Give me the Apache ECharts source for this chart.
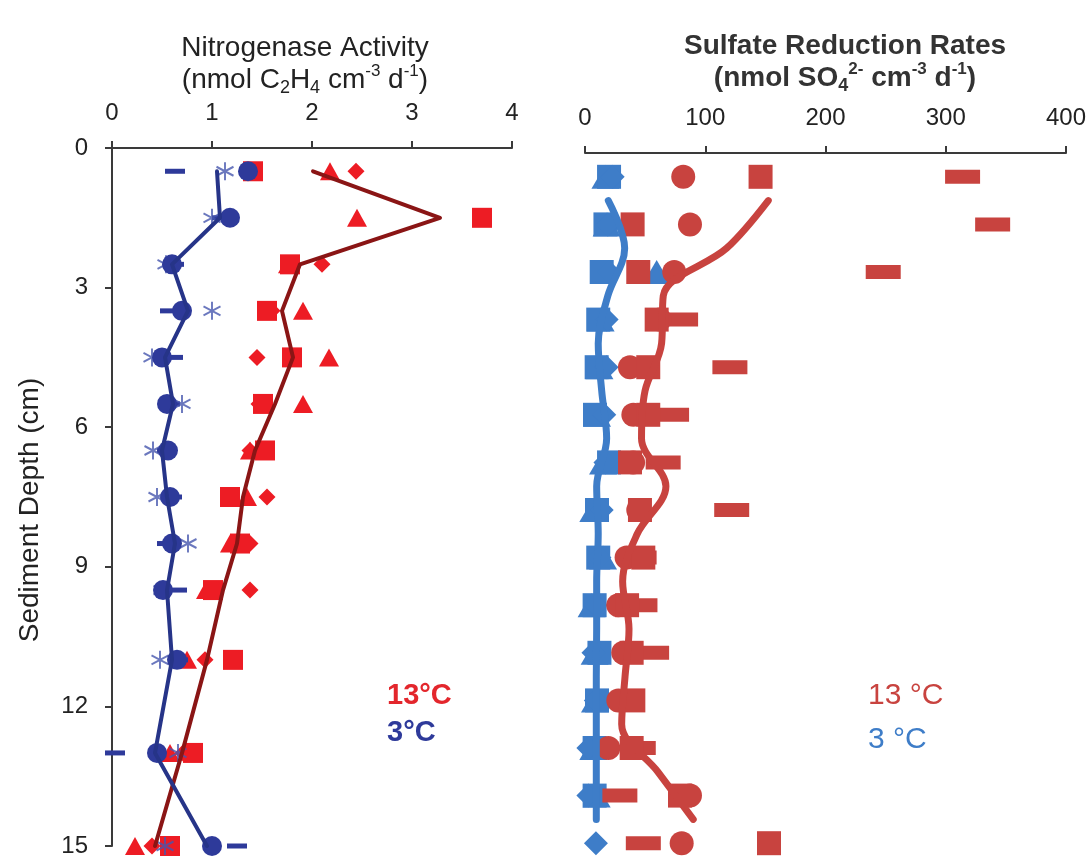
<!DOCTYPE html>
<html>
<head>
<meta charset="utf-8">
<script src="https://cdn.jsdelivr.net/npm/echarts@6/dist/echarts.min.js"></script>
<style>
html,body{margin:0;padding:0;background:#fff;}
#chart{width:1091px;height:857px;}
</style>
</head>
<body>
<div id="chart"></div>
<script>
// ---------- Left panel: Nitrogenase activity ----------
const depthsN = [0.5, 1.5, 2.5, 3.5, 4.5, 5.5, 6.5, 7.5, 8.5, 9.5, 11, 13, 15];
// 13 °C replicates (red)
const n13Square   = [1.41, 3.70, 1.78, 1.55, 1.80, 1.51, 1.53, 1.18, 1.28, 1.01, 1.21, 0.81, 0.58];
const n13Triangle = [2.18, 2.45, 1.76, 1.91, 2.17, 1.91, 1.38, 1.35, 1.18, 0.94, 0.75, 0.58, 0.23];
const n13Diamond  = [2.44, 3.69, 2.10, 1.60, 1.45, 1.47, 1.38, 1.55, 1.38, 1.38, 0.93, 0.71, 0.40];
const n13Mean     = [2.01, 3.28, 1.88, 1.70, 1.81, 1.63, 1.43, 1.31, 1.25, 1.11, 0.95, 0.70, 0.43];
// 3 °C replicates (blue)
const n3Circle    = [1.36, 1.18, 0.60, 0.70, 0.50, 0.55, 0.56, 0.58, 0.60, 0.51, 0.65, 0.45, 1.00];
const n3Star      = [1.13, 1.00, 0.54, 1.00, 0.40, 0.70, 0.41, 0.45, 0.76, 0.50, 0.48, 0.66, 0.53];
const n3Dash      = [0.63, 1.10, 0.62, 0.58, 0.61, 0.58, 0.55, 0.60, 0.55, 0.65, 0.66, 0.03, 1.25];
const n3Mean      = [1.05, 1.08, 0.60, 0.76, 0.53, 0.61, 0.50, 0.55, 0.63, 0.55, 0.60, 0.43, 0.95];

// ---------- Right panel: Sulfate reduction rates ----------
const depthsS = [0.5, 1.5, 2.5, 3.5, 4.5, 5.5, 6.5, 7.5, 8.5, 9.5, 10.5, 11.5, 12.5, 13.5, 14.5];
const s13Square = [146, 39.6, 44.3, 59.6, 52.6, 52.6, 37.4, 45.7, 48.5, 35, 38.8, 40.2, 38.8, 79, 153];
const s13Circle = [81.7, 87.3, 74.2, 62, 37.4, 40.2, 40, 44.3, 34.6, 27.7, 31.8, 27.7, 19.4, 87.3, 80.4];
const s13Dash   = [314, 339, 248, 79.5, 120.5, 72, 65, 122, 45, 45.7, 55.4, 35, 44.3, 29, 48.5];
const s3Triangle = [17, 18, 59.6, 13, 12, 10, 15, 6.9, 15, 5.5, 8, 8.3, 6.9, 9.7, null];
const s3Square   = [20, 17, 13.9, 11, 9.7, 8.3, 20, 10, 11, 8, 12, 10, 8, 8, null];
const s3Diamond  = [23, 19, 20, 18, 18, 16, 17, 13.9, 12, 9, 7, 9, 2.8, 2.8, 9.1];
const depthsTrend = [1, 2, 3, 4, 5, 6, 7, 8, 9, 10, 11, 12, 13, 14];
const s13Trend = [152.4, 117.8, 65.1, 63.7, 49.9, 47, 67.3, 43.5, 31.3, 36.6, 33.3, 30.5, 60.6, 90];
const s3Trend  = [19.4, 33, 19, 11, 13.9, 18, 9.7, 11, 9.7, 9.7, 9.4, 9.4, 9.4, 9.4];

// tick values
const nTicks = [0, 1, 2, 3, 4];
const sTicks = [0, 100, 200, 300, 400];
const depthTicks = [0, 3, 6, 9, 12, 15];

function pts(vals, depths) {
  const out = [];
  vals.forEach((v, i) => { if (v !== null && v !== undefined) out.push([v, depths[i]]); });
  return out;
}

const FONT = 'Liberation Sans, Arial, sans-serif';
const RED_N = '#ED1C24', RED_N_LINE = '#8A1515', BLUE_N = '#2E3A9A', BLUE_N_LINE = '#263488';
const RED_S = '#C8433F', BLUE_S = '#3E7DC8';
const STAR = 'path://M10,0 L10,20 M1.34,5 L18.66,15 M1.34,15 L18.66,5';

function scatter(name, vals, depths, idx, symbol, size, color, extra) {
  return Object.assign({
    name: name, type: 'scatter', xAxisIndex: idx, yAxisIndex: idx,
    data: pts(vals, depths), symbol: symbol, symbolSize: size,
    itemStyle: { color: color, opacity: 1 }, clip: false, silent: true, z: 2
  }, extra || {});
}
function line(name, vals, depths, idx, color, width, smooth) {
  return {
    name: name, type: 'line', xAxisIndex: idx, yAxisIndex: idx,
    data: pts(vals, depths), showSymbol: false, symbol: 'none',
    lineStyle: { color: color, width: width, cap: 'round', join: 'round' },
    smooth: smooth, clip: false, silent: true, z: 3
  };
}

const axisLineStyle = { color: '#3a3a3a', width: 2 };
const tickLabel = { fontSize: 24, color: '#222', fontFamily: FONT };
const option = {
  animation: false,
  backgroundColor: '#ffffff',
  grid: [
    { left: 112, top: 148, width: 400, height: 698, outerBoundsMode: 'none', containLabel: false },
    { left: 585, top: 153, width: 481, height: 714, outerBoundsMode: 'none', containLabel: false }
  ],
  xAxis: [
    { gridIndex: 0, type: 'value', position: 'top', min: nTicks[0], max: nTicks[nTicks.length - 1], interval: 1,
      axisLine: { show: true, lineStyle: axisLineStyle }, axisTick: { show: true, length: 7, lineStyle: axisLineStyle },
      axisLabel: Object.assign({ margin: 23 }, tickLabel), splitLine: { show: false } },
    { gridIndex: 1, type: 'value', position: 'top', min: sTicks[0], max: sTicks[sTicks.length - 1], interval: 100,
      axisLine: { show: true, lineStyle: axisLineStyle }, axisTick: { show: true, length: 7, lineStyle: axisLineStyle },
      axisLabel: Object.assign({ margin: 23 }, tickLabel), splitLine: { show: false } }
  ],
  yAxis: [
    { gridIndex: 0, type: 'value', inverse: true, min: depthTicks[0], max: depthTicks[depthTicks.length - 1], interval: 3,
      axisLine: { show: true, lineStyle: axisLineStyle }, axisTick: { show: true, length: 7, lineStyle: axisLineStyle },
      axisLabel: Object.assign({ margin: 24 }, tickLabel), splitLine: { show: false } },
    { gridIndex: 1, type: 'value', inverse: true, min: 0, max: 15, show: false }
  ],
  graphic: [
    { type: 'text', x: 30, y: 510, rotation: Math.PI / 2, style: { text: 'Sediment Depth (cm)', fill: '#222',
      font: '28px ' + FONT, textAlign: 'center', textVerticalAlign: 'middle' } },
    { type: 'text', x: 305, y: 48, style: { text: 'Nitrogenase Activity', fill: '#222',
      font: '28px ' + FONT, textAlign: 'center', textVerticalAlign: 'middle' } },
    { type: 'text', x: 305, y: 80, style: { text: '{n|(nmol C}{sub|2}{n|H}{sub|4}{n| cm}{sup|-3}{n| d}{sup|-1}{n|)}',
      fill: '#222', textAlign: 'center', textVerticalAlign: 'middle',
      rich: { n: { fontSize: 28, lineHeight: 34, fontFamily: FONT, verticalAlign: 'middle', fill: '#222' },
              sub: { fontSize: 18, lineHeight: 15, fontFamily: FONT, verticalAlign: 'bottom', fill: '#222' },
              sup: { fontSize: 17, lineHeight: 15, fontFamily: FONT, verticalAlign: 'top', fill: '#222' } } } },
    { type: 'text', x: 845, y: 46, style: { text: 'Sulfate Reduction Rates', fill: '#333',
      font: 'bold 28px ' + FONT, textAlign: 'center', textVerticalAlign: 'middle' } },
    { type: 'text', x: 845, y: 78, style: { text: '{n|(nmol SO}{sub|4}{sup|2-}{n| cm}{sup|-3}{n| d}{sup|-1}{n|)}',
      fill: '#333', textAlign: 'center', textVerticalAlign: 'middle',
      rich: { n: { fontSize: 28, fontWeight: 'bold', lineHeight: 34, fontFamily: FONT, verticalAlign: 'middle', fill: '#333' },
              sub: { fontSize: 18, fontWeight: 'bold', lineHeight: 15, fontFamily: FONT, verticalAlign: 'bottom', fill: '#333' },
              sup: { fontSize: 17, fontWeight: 'bold', lineHeight: 15, fontFamily: FONT, verticalAlign: 'top', fill: '#333' } } } },
    { type: 'text', x: 387, y: 696, style: { text: '13°C', fill: '#E3262C', font: 'bold 29px ' + FONT, textVerticalAlign: 'middle' } },
    { type: 'text', x: 387, y: 733, style: { text: '3°C', fill: '#2E3A9A', font: 'bold 29px ' + FONT, textVerticalAlign: 'middle' } },
    { type: 'text', x: 868, y: 696, style: { text: '13 °C', fill: '#C8433F', font: '30px ' + FONT, textVerticalAlign: 'middle' } },
    { type: 'text', x: 868, y: 740, style: { text: '3 °C', fill: '#3E7DC8', font: '30px ' + FONT, textVerticalAlign: 'middle' } }
  ],
  series: [
    // left, 13 °C
    scatter('13 diamond', n13Diamond, depthsN, 0, 'diamond', [17, 17], RED_N),
    scatter('13 triangle', n13Triangle, depthsN, 0, 'triangle', [20, 18], RED_N),
    scatter('13 square', n13Square, depthsN, 0, 'rect', [20, 20], RED_N),
    // left, 3 °C
    scatter('3 dash', n3Dash, depthsN, 0, 'rect', [20, 5], BLUE_N),
    scatter('3 star', n3Star, depthsN, 0, STAR, [17, 18], 'rgba(0,0,0,0)',
      { itemStyle: { color: 'rgba(0,0,0,0)', borderColor: '#4656AE', borderWidth: 2 } }),
    scatter('3 circle', n3Circle, depthsN, 0, 'circle', [20, 20], BLUE_N),
    line('13 mean', n13Mean, depthsN, 0, RED_N_LINE, 4, false),
    line('3 mean', n3Mean, depthsN, 0, BLUE_N_LINE, 4, false),
    // right, 3 °C
    scatter('s3 triangle', s3Triangle, depthsS, 1, 'triangle', [28, 24], BLUE_S),
    scatter('s3 square', s3Square, depthsS, 1, 'rect', [24, 24], BLUE_S),
    scatter('s3 diamond', s3Diamond, depthsS, 1, 'diamond', [24, 24], BLUE_S),
    // right, 13 °C
    scatter('s13 dash', s13Dash, depthsS, 1, 'rect', [35, 14], RED_S),
    scatter('s13 circle', s13Circle, depthsS, 1, 'circle', [24, 24], RED_S),
    scatter('s13 square', s13Square, depthsS, 1, 'rect', [24, 24], RED_S),
    line('s3 trend', s3Trend, depthsTrend, 1, BLUE_S, 7, 0.35),
    line('s13 trend', s13Trend, depthsTrend, 1, RED_S, 7, 0.35)
  ]
};

const chart = echarts.init(document.getElementById('chart'), null, { renderer: 'canvas' });
chart.setOption(option);
</script>
</body>
</html>
